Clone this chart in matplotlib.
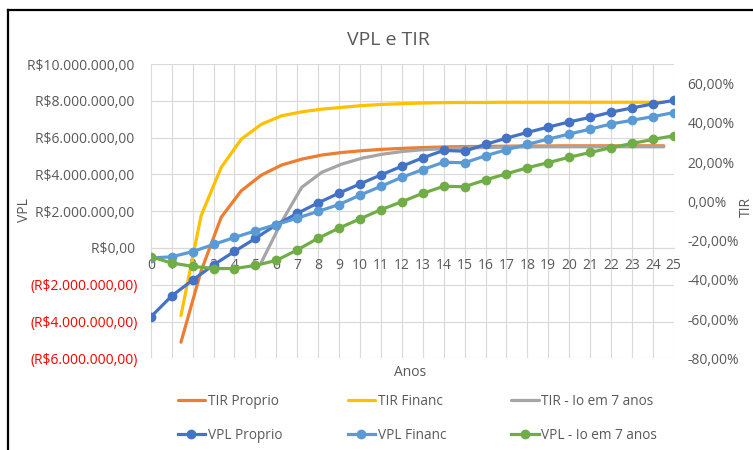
import matplotlib
matplotlib.use('Agg')
import matplotlib.pyplot as plt
from matplotlib.lines import Line2D
import numpy as np

plt.rcParams['font.family'] = ['Open Sans', 'DejaVu Sans']

anos = list(range(26))

# VPL em milhoes de R$
vpl_proprio = [-3.75, -2.61, -1.75, -0.92, -0.19, 0.52, 1.26, 1.88, 2.45, 2.98, 3.48, 3.97, 4.44,
               4.90, 5.30, 5.26, 5.63, 5.97, 6.28, 6.57, 6.85, 7.10, 7.38, 7.61, 7.83, 8.02]
vpl_financ = [-0.55, -0.48, -0.20, 0.19, 0.57, 0.93, 1.27, 1.62, 1.99, 2.36, 2.87, 3.35, 3.84,
              4.26, 4.66, 4.63, 5.01, 5.34, 5.63, 5.92, 6.19, 6.46, 6.74, 6.94, 7.14, 7.36]
vpl_io7 = [-0.48, -0.82, -1.00, -1.12, -1.12, -0.95, -0.68, -0.11, 0.53, 1.08, 1.58, 2.08, 2.51,
           2.97, 3.35, 3.33, 3.70, 4.03, 4.36, 4.64, 4.93, 5.19, 5.45, 5.68, 5.90, 6.10]

nan = np.nan
tir_proprio = [nan, -0.718, -0.355, -0.081, 0.054, 0.134, 0.185, 0.215, 0.236, 0.249, 0.258, 0.265, 0.270,
               0.274, 0.277, 0.279, 0.280, 0.281, 0.282, 0.282, 0.283, 0.283, 0.283, 0.283, 0.283, 0.283]
tir_financ = [nan, -0.582, -0.073, 0.173, 0.317, 0.393, 0.436, 0.456, 0.470, 0.479, 0.488, 0.494, 0.498,
              0.501, 0.503, 0.504, 0.504, 0.505, 0.505, 0.505, 0.505, 0.505, 0.505, 0.505, 0.505, 0.505]
tir_io7 = [nan, nan, nan, nan, nan, -0.310, -0.105, 0.071, 0.148, 0.190, 0.220, 0.240, 0.254,
           0.263, 0.268, 0.272, 0.274, 0.276, 0.277, 0.278, 0.278, 0.278, 0.278, 0.278, 0.278, 0.278]

vpl_ticks = np.arange(-6e6, 1.0001e7, 2e6)
tir_ticks = np.arange(-0.8, 0.601, 0.2)

cinza = '#595959'


def fmt_real(v):
    s = f"{abs(v):,.2f}".replace(",", "X").replace(".", ",").replace("X", ".")
    if v < 0:
        return f"(R${s})"
    return f"R${s} "


def fmt_pct(v):
    return f"{v * 100:.2f}%".replace(".", ",").replace("-0,00", "0,00")


fig = plt.figure(figsize=(7.53, 4.5), dpi=100)
rect = [150.8 / 753, 1 - 358.3 / 450, 523 / 753, 294.3 / 450]

# eixo principal: grade e rotulos do VPL
ax = fig.add_axes(rect)
ax.set_xlim(0, 25)
ax.set_ylim(-6e6, 1e7)
ax.set_yticks(vpl_ticks, labels=[fmt_real(v) for v in vpl_ticks])
ax.set_xticks(anos, labels=[str(a) for a in anos])
ax.grid(True, color='#d9d9d9', lw=0.8)
ax.set_axisbelow(True)
ax.tick_params(length=0, labelsize=10)
ax.tick_params(axis='x', colors=cinza, pad=7)
ax.tick_params(axis='y', pad=9)
for lbl, v in zip(ax.get_yticklabels(), vpl_ticks):
    lbl.set_color('#ff0000' if v < 0 else cinza)
for s in ['top', 'right', 'left']:
    ax.spines[s].set_visible(False)
ax.spines['bottom'].set_position(('data', 0))
ax.spines['bottom'].set_color('#d9d9d9')
ax.set_zorder(0)

# eixo secundario da TIR
ax2 = fig.add_axes(rect)
ax2.patch.set_visible(False)
ax2.set_xlim(-0.5, 25.5)
ax2.set_ylim(-0.8, 0.7)
ax2.yaxis.tick_right()
ax2.set_yticks(tir_ticks, labels=[fmt_pct(v) for v in tir_ticks])
ax2.tick_params(axis='y', length=0, colors=cinza, labelsize=10, pad=10)
ax2.xaxis.set_visible(False)
for s in ax2.spines.values():
    s.set_visible(False)
ax2.set_zorder(1)

# camada do VPL por cima
ax3 = fig.add_axes(rect, sharex=ax, sharey=ax)
ax3.axis('off')
ax3.patch.set_visible(False)
ax3.set_zorder(2)

lw = 2.3
l1, = ax2.plot(anos, tir_proprio, color='#ED7D31', lw=lw, solid_capstyle='round', solid_joinstyle='round')
l2, = ax2.plot(anos, tir_financ, color='#FFC000', lw=lw, solid_capstyle='round', solid_joinstyle='round')
l3, = ax2.plot(anos, tir_io7, color='#A5A5A5', lw=lw, solid_capstyle='round', solid_joinstyle='round')

m1, = ax3.plot(anos, np.array(vpl_proprio) * 1e6, color='#4472C4', lw=lw, marker='o', ms=6)
m2, = ax3.plot(anos, np.array(vpl_financ) * 1e6, color='#5B9BD5', lw=lw, marker='o', ms=6)
m3, = ax3.plot(anos, np.array(vpl_io7) * 1e6, color='#70AD47', lw=lw, marker='o', ms=6)

handles = [l1, m1, l2, m2, l3, m3]
labels = ['TIR Proprio', 'VPL Proprio', 'TIR Financ', 'VPL Financ',
          'TIR - Io em 7 anos', 'VPL - Io em 7 anos']
fig.legend(handles, labels, ncol=3, loc='upper left', bbox_to_anchor=(171 / 753, 1 - 387 / 450),
           frameon=False, borderpad=0, handlelength=2.0, handletextpad=0.2,
           columnspacing=4.8, labelspacing=1.4, fontsize=9.8, labelcolor=cinza)

fig.text(388 / 753, 1 - 40 / 450, 'VPL e TIR', ha='center', va='center', fontsize=14, color=cinza)
fig.text(24 / 753, 1 - 210 / 450, 'VPL', ha='center', va='center', rotation=90, fontsize=10, color=cinza)
fig.text(410 / 753, 1 - 372 / 450, 'Anos', ha='center', va='center', fontsize=10, color=cinza)
fig.text(746 / 753, 1 - 207 / 450, 'TIR', ha='center', va='center', rotation=90, fontsize=10, color=cinza)

# moldura do grafico
topo = 1 - 10 / 450
esq = 8 / 753
fig.add_artist(Line2D([esq, esq], [0, topo], transform=fig.transFigure, color='black', lw=1.6))
fig.add_artist(Line2D([esq, 1], [topo, topo], transform=fig.transFigure, color='black', lw=1.6))

fig.savefig('out.png', dpi=100)
